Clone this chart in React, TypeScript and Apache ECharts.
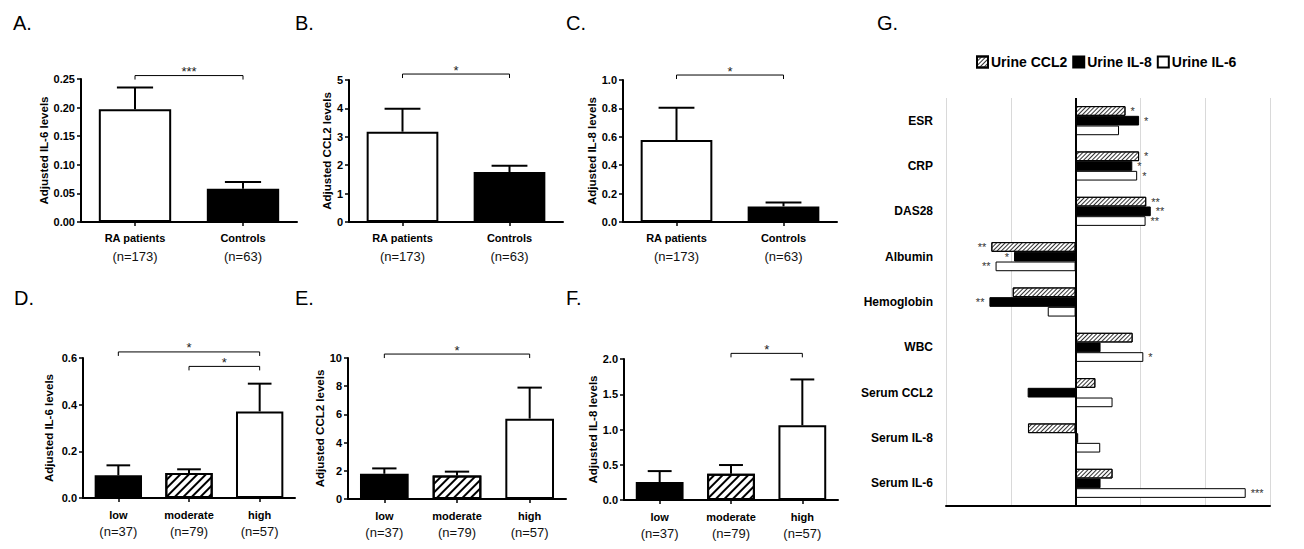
import React, { useEffect, useRef } from 'react';
import * as echarts from 'echarts';

const FONT = '"Liberation Sans", Arial, sans-serif';

// ---------- Panels A-C (RA patients vs Controls) ----------
const groupsRA = ['RA patients', 'Controls'];
const groupsRAn = ['(n=173)', '(n=63)'];
const fillsRA = ['white', 'black'];

const il6RAMean = [0.197, 0.058];
const il6RAErr = [0.038, 0.012];
const ccl2RAMean = [3.18, 1.76];
const ccl2RAErr = [0.81, 0.22];
const il8RAMean = [0.577, 0.11];
const il8RAErr = [0.228, 0.027];

// ---------- Panels D-F (disease activity) ----------
const groupsDAS = ['low', 'moderate', 'high'];
const groupsDASn = ['(n=37)', '(n=79)', '(n=57)'];
const fillsDAS = ['black', 'hatch', 'white'];

const il6DASMean = [0.097, 0.107, 0.371];
const il6DASErr = [0.043, 0.016, 0.119];
const ccl2DASMean = [1.79, 1.67, 5.7];
const ccl2DASErr = [0.38, 0.27, 2.2];
const il8DASMean = [0.255, 0.373, 1.06];
const il8DASErr = [0.155, 0.123, 0.65];

// significance brackets: [from category, to category, height in data units]
const bracketsA = [{ from: 0, to: 1, y: 0.256, text: '***' }];
const bracketsB = [{ from: 0, to: 1, y: 5.21, text: '*' }];
const bracketsC = [{ from: 0, to: 1, y: 1.035, text: '*' }];
const bracketsD = [
  { from: 0, to: 2, y: 0.626, text: '*' },
  { from: 1, to: 2, y: 0.564, text: '*' },
];
const bracketsE = [{ from: 0, to: 2, y: 10.28, text: '*' }];
const bracketsF = [{ from: 1, to: 2, y: 2.08, text: '*' }];

// ---------- Panel G (correlations) ----------
const categoriesG = ['ESR', 'CRP', 'DAS28', 'Albumin', 'Hemoglobin', 'WBC', 'Serum CCL2', 'Serum IL-8', 'Serum IL-6'];
const urineCCL2 = [0.154, 0.196, 0.218, -0.26, -0.194, 0.176, 0.061, -0.147, 0.114];
const urineIL8 = [0.196, 0.175, 0.232, -0.19, -0.266, 0.077, -0.148, 0.008, 0.077];
const urineIL6 = [0.134, 0.19, 0.216, -0.247, -0.086, 0.209, 0.114, 0.076, 0.525];
const sigCCL2 = ['*', '*', '**', '**', '', '', '', '', ''];
const sigIL8 = ['*', '*', '**', '*', '**', '', '', '', ''];
const sigIL6 = ['', '*', '**', '**', '', '*', '', '', '***'];

const hatchBar = {
  symbol: 'rect',
  symbolSize: 1,
  dashArrayX: [1, 0],
  dashArrayY: [1.4, 3.6],
  rotation: -Math.PI / 4,
  color: '#000',
};
const hatchG = {
  symbol: 'rect',
  symbolSize: 1,
  dashArrayX: [1, 0],
  dashArrayY: [1, 2],
  rotation: -Math.PI / 4,
  color: '#333',
};

const panels = [
  { letter: 'A.', lx: 13, ly: 23, cats: groupsRA, ns: groupsRAn, fills: fillsRA, mean: il6RAMean, err: il6RAErr, max: 0.25, interval: 0.05, digits: 2, title: 'Adjusted IL-6 levels', brackets: bracketsA, grid: { left: 81, top: 79, width: 216, height: 143 }, nameGap: 31, lh: [16, 20], margin: 8 },
  { letter: 'B.', lx: 295, ly: 23, cats: groupsRA, ns: groupsRAn, fills: fillsRA, mean: ccl2RAMean, err: ccl2RAErr, max: 5, interval: 1, digits: 0, title: 'Adjusted CCL2 levels', brackets: bracketsB, grid: { left: 349, top: 80, width: 214, height: 142 }, nameGap: 15, lh: [16, 20], margin: 8 },
  { letter: 'C.', lx: 566, ly: 23, cats: groupsRA, ns: groupsRAn, fills: fillsRA, mean: il8RAMean, err: il8RAErr, max: 1.0, interval: 0.2, digits: 1, title: 'Adjusted IL-8 levels', brackets: bracketsC, grid: { left: 623, top: 80, width: 214, height: 142 }, nameGap: 25, lh: [16, 20], margin: 8 },
  { letter: 'D.', lx: 14, ly: 298, cats: groupsDAS, ns: groupsDASn, fills: fillsDAS, mean: il6DASMean, err: il6DASErr, max: 0.6, interval: 0.2, digits: 1, title: 'Adjusted IL-6 levels', brackets: bracketsD, grid: { left: 83, top: 358, width: 212, height: 140 }, nameGap: 28, lh: [16, 17], margin: 9 },
  { letter: 'E.', lx: 295, ly: 298, cats: groupsDAS, ns: groupsDASn, fills: fillsDAS, mean: ccl2DASMean, err: ccl2DASErr, max: 10, interval: 2, digits: 0, title: 'Adjusted CCL2 levels', brackets: bracketsE, grid: { left: 348, top: 358, width: 218, height: 141 }, nameGap: 18, lh: [16, 17], margin: 9 },
  { letter: 'F.', lx: 566, ly: 298, cats: groupsDAS, ns: groupsDASn, fills: fillsDAS, mean: il8DASMean, err: il8DASErr, max: 2.0, interval: 0.5, digits: 1, title: 'Adjusted IL-8 levels', brackets: bracketsF, grid: { left: 624, top: 359, width: 214, height: 141 }, nameGap: 25, lh: [16, 17], margin: 9 },
];

function buildOption() {
  const grid: any[] = [];
  const xAxis: any[] = [];
  const yAxis: any[] = [];
  const series: any[] = [];
  const graphic: any[] = [];

  panels.forEach((p, k) => {
    grid.push({ ...p.grid });
    xAxis.push({
      type: 'category',
      gridIndex: k,
      data: p.cats,
      axisLine: { show: true, lineStyle: { color: '#000', width: 2 } },
      axisTick: { show: true, alignWithLabel: true, length: 4, lineStyle: { color: '#000', width: 1.5 } },
      axisLabel: {
        interval: 0,
        margin: p.margin,
        color: '#000',
        formatter: (v: string, i: number) => `{a|${v}}\n{b|${p.ns[i]}}`,
        rich: {
          a: { fontFamily: FONT, fontWeight: 'bold', fontSize: 11, lineHeight: p.lh[0], color: '#000' },
          b: { fontFamily: FONT, fontSize: 13, lineHeight: p.lh[1], color: '#111' },
        },
      },
    });
    yAxis.push({
      type: 'value',
      gridIndex: k,
      min: 0,
      max: p.max,
      interval: p.interval,
      name: p.title,
      nameLocation: 'middle',
      nameRotate: 90,
      nameGap: p.nameGap,
      nameTextStyle: { fontFamily: FONT, fontWeight: 'bold', fontSize: 11.5, color: '#000' },
      axisLine: { show: true, lineStyle: { color: '#000', width: 2 } },
      axisTick: { show: true, length: 4, lineStyle: { color: '#000', width: 1.5 } },
      splitLine: { show: false },
      axisLabel: {
        margin: 6,
        fontFamily: FONT,
        fontWeight: 'bold',
        fontSize: 11,
        color: '#000',
        formatter: (v: number) => v.toFixed(p.digits),
      },
    });
    series.push({
      type: 'bar',
      xAxisIndex: k,
      yAxisIndex: k,
      barWidth: '67%',
      data: p.mean.map((v, i) => ({
        value: v,
        itemStyle: {
          color: p.fills[i] === 'black' ? '#000' : '#fff',
          borderColor: '#000',
          borderWidth: 2,
          decal: p.fills[i] === 'hatch' ? hatchBar : undefined,
        },
      })),
      z: 2,
    });
    series.push({
      type: 'custom',
      xAxisIndex: k,
      yAxisIndex: k,
      z: 3,
      data: p.mean.map((v, i) => [i, v, p.err[i]]),
      renderItem: (_params: any, api: any) => {
        const x = api.value(0);
        const m = api.value(1);
        const e = api.value(2);
        const p0 = api.coord([x, m]);
        const p1 = api.coord([x, m + e]);
        const half = (api.size([1, 0])[0] * 0.67) / 4;
        const st = { stroke: '#000', lineWidth: 2 };
        return {
          type: 'group',
          children: [
            { type: 'line', shape: { x1: p0[0], y1: p0[1], x2: p1[0], y2: p1[1] }, style: st },
            { type: 'line', shape: { x1: p1[0] - half, y1: p1[1], x2: p1[0] + half, y2: p1[1] }, style: st },
          ],
        };
      },
    });
    series.push({
      type: 'custom',
      xAxisIndex: k,
      yAxisIndex: k,
      z: 3,
      clip: false,
      data: p.brackets.map((b) => [b.from, b.to, b.y]),
      renderItem: (params: any, api: any) => {
        const a = api.coord([api.value(0), api.value(2)]);
        const b = api.coord([api.value(1), api.value(2)]);
        const txt = p.brackets[params.dataIndex].text;
        return {
          type: 'group',
          children: [
            {
              type: 'polyline',
              shape: { points: [[a[0], a[1] + 4], [a[0], a[1]], [b[0], b[1]], [b[0], b[1] + 4]] },
              style: { stroke: '#000', lineWidth: 1, fill: 'none' },
            },
            {
              type: 'text',
              x: (a[0] + b[0]) / 2,
              y: a[1] - 4,
              style: { text: txt, fontFamily: FONT, fontSize: 13, fill: '#222', align: 'center', verticalAlign: 'middle' },
            },
          ],
        };
      },
    });
    graphic.push({
      type: 'text',
      x: p.lx,
      y: p.ly,
      style: { text: p.letter, fontFamily: FONT, fontSize: 20, fill: '#000', verticalAlign: 'middle' },
    });
  });

  // Panel G
  const g = panels.length;
  grid.push({ left: 946, top: 98, width: 324, height: 408 });
  xAxis.push({
    type: 'value',
    gridIndex: g,
    min: -0.4,
    max: 0.6,
    interval: 0.2,
    axisLine: { show: true, lineStyle: { color: '#000', width: 2 } },
    axisTick: { show: false },
    axisLabel: { show: false },
    splitLine: { show: true, lineStyle: { color: '#d9d9d9', width: 1 } },
  });
  yAxis.push({
    type: 'category',
    gridIndex: g,
    inverse: true,
    data: categoriesG,
    axisLine: { show: false },
    axisTick: { show: false },
    axisLabel: { margin: 13, fontFamily: FONT, fontWeight: 'bold', fontSize: 12, color: '#000' },
  });
  const gSeries = [
    { name: 'Urine CCL2', vals: urineCCL2, sig: sigCCL2, color: '#fff', decal: hatchG },
    { name: 'Urine IL-8', vals: urineIL8, sig: sigIL8, color: '#000', decal: undefined },
    { name: 'Urine IL-6', vals: urineIL6, sig: sigIL6, color: '#fff', decal: undefined },
  ];
  gSeries.forEach((s, j) => {
    series.push({
      name: s.name,
      type: 'bar',
      xAxisIndex: g,
      yAxisIndex: g,
      barWidth: 9.7,
      barGap: '0%',
      itemStyle: { color: s.color, borderColor: '#000', borderWidth: 1, decal: s.decal },
      data: s.vals.map((v, i) => ({
        value: v,
        label: {
          show: !!s.sig[i],
          position: v < 0 ? 'left' : 'right',
          distance: 5,
          formatter: s.sig[i] || '',
          fontFamily: FONT,
          fontSize: 11,
          color: '#333',
          textBorderWidth: 0,
        },
      })),
      markLine:
        j === 2
          ? {
              silent: true,
              symbol: 'none',
              label: { show: false },
              lineStyle: { color: '#000', width: 2, type: 'solid' },
              data: [{ xAxis: 0 }],
            }
          : undefined,
    });
  });
  graphic.push({
    type: 'text',
    x: 877,
    y: 23,
    style: { text: 'G.', fontFamily: FONT, fontSize: 20, fill: '#000', verticalAlign: 'middle' },
  });

  return {
    animation: false,
    backgroundColor: '#fff',
    textStyle: { fontFamily: FONT },
    legend: {
      data: ['Urine CCL2', 'Urine IL-8', 'Urine IL-6'],
      left: 971,
      top: 50,
      icon: 'rect',
      itemWidth: 11,
      itemHeight: 11,
      itemGap: 5,
      selectedMode: false,
      textStyle: { fontFamily: FONT, fontWeight: 'bold', fontSize: 14, color: '#000', padding: [0, 0, 0, -2] },
    },
    grid,
    xAxis,
    yAxis,
    series,
    graphic,
  };
}

export default function App() {
  const ref = useRef<HTMLDivElement>(null);
  useEffect(() => {
    if (!ref.current) return;
    const chart = echarts.init(ref.current, undefined, { renderer: 'svg' });
    chart.setOption(buildOption() as any);
    return () => chart.dispose();
  }, []);
  return (
    <div
      ref={ref}
      style={{ position: 'fixed', left: 0, top: 0, width: 1304, height: 549, background: '#fff' }}
    />
  );
}
